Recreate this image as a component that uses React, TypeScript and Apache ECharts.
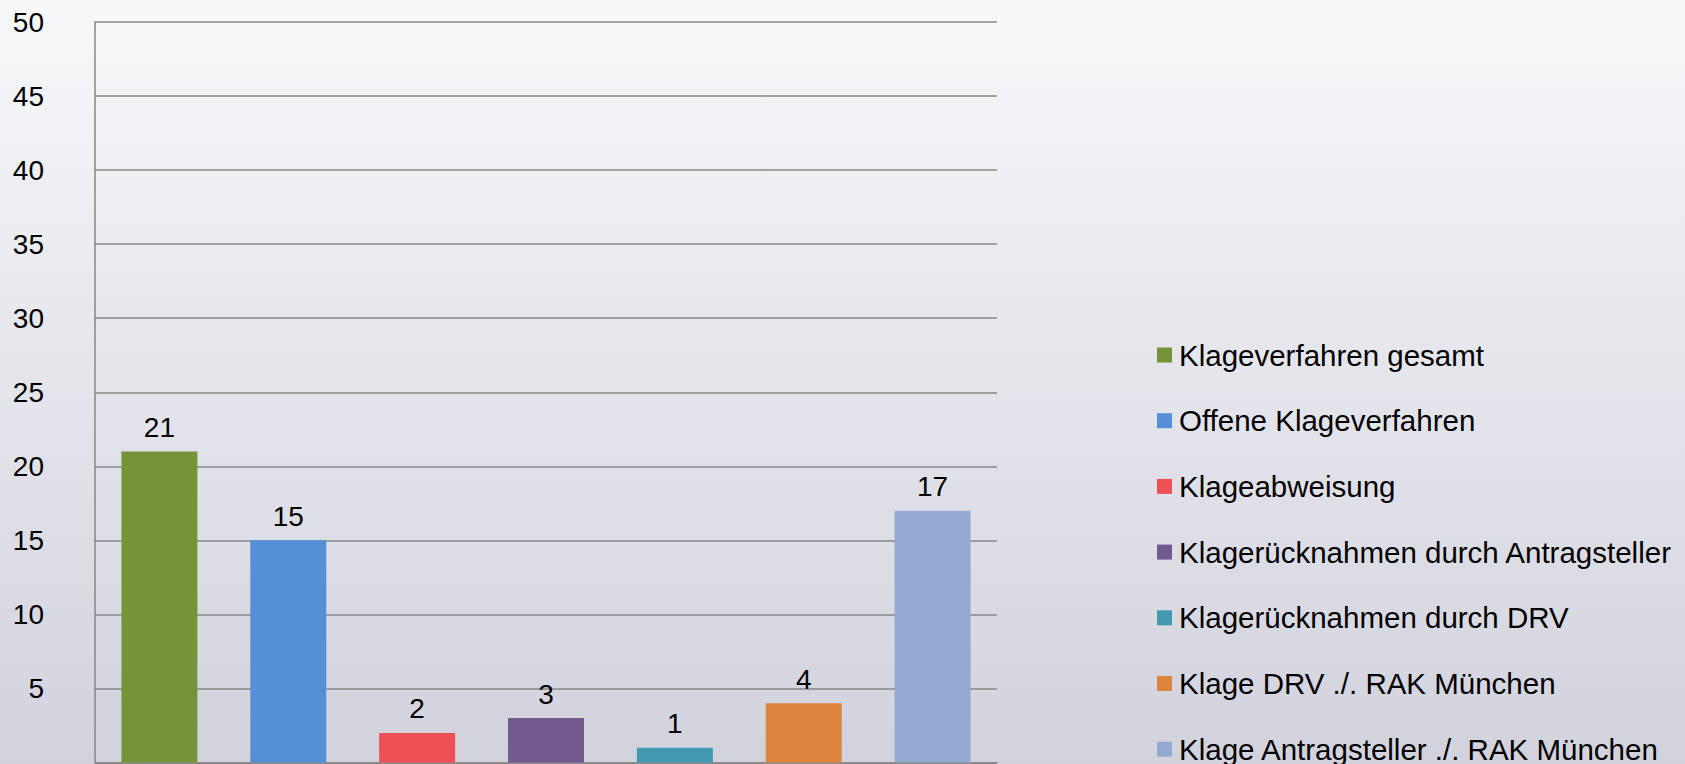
import React, { useEffect, useRef } from "react";
import * as echarts from "echarts";

const categories = [
  "Klageverfahren gesamt",
  "Offene Klageverfahren",
  "Klageabweisung",
  "Klagerücknahmen durch Antragsteller",
  "Klagerücknahmen durch DRV",
  "Klage DRV ./. RAK München",
  "Klage Antragsteller ./. RAK München",
];
const values = [21, 15, 2, 3, 1, 4, 17];
const colors = ["#779339", "#558fd5", "#ef5056", "#72598e", "#4299b0", "#dd843f", "#95aad2"];
const yTicks = { min: 0, max: 50, interval: 5 };

export default function App() {
  const ref = useRef<HTMLDivElement>(null);
  useEffect(() => {
    if (!ref.current) return;
    const chart = echarts.init(ref.current, undefined, { renderer: "svg" });
    const font = "'Liberation Sans', Arial, sans-serif";
    const series = categories.map((name, i) => ({
      name,
      type: "bar",
      barWidth: 76,
      barGap: "-100%",
      itemStyle: { color: colors[i] },
      label: {
        show: true,
        position: "top",
        distance: 10,
        color: "#000",
        fontSize: 28,
        fontFamily: font,
      },
      data: categories.map((_, j) => (j === i ? values[i] : "-")),
    }));
    chart.setOption({
      animation: false,
      backgroundColor: new echarts.graphic.LinearGradient(0, 0, 0, 1, [
        { offset: 0, color: "#f7f8fa" },
        { offset: 0.955, color: "#d2d2dd" },
        { offset: 1, color: "#d0d0db" },
      ]),
      grid: { left: 95, top: 22, width: 902, height: 740.5, containLabel: false },
      xAxis: {
        type: "category",
        data: categories,
        axisLabel: { show: false },
        axisTick: { show: false },
        axisLine: { show: true, lineStyle: { color: "#878787", width: 1.5 } },
      },
      yAxis: {
        type: "value",
        min: yTicks.min,
        max: yTicks.max,
        interval: yTicks.interval,
        axisLine: { show: true, lineStyle: { color: "#878787", width: 1.5 } },
        axisTick: { show: false },
        splitLine: { show: true, lineStyle: { color: "#878787", width: 1.5 } },
        axisLabel: {
          showMinLabel: false,
          margin: 51,
          color: "#000",
          fontSize: 28,
          fontFamily: font,
        },
      },
      legend: {
        orient: "vertical",
        left: 1157,
        top: 340,
        padding: 0,
        height: 460,
        itemWidth: 15,
        itemHeight: 15,
        itemGap: 35.7,
        icon: "rect",
        data: categories,
        textStyle: { color: "#000", fontSize: 29.5, fontFamily: font, padding: [0, 0, 0, 2] },
      },
      series,
    });
    return () => chart.dispose();
  }, []);
  return (
    <div style={{ position: "fixed", left: 0, top: 0, width: 1685, height: 764, overflow: "hidden" }}>
      <div ref={ref} style={{ width: 1685, height: 800 }} />
    </div>
  );
}
